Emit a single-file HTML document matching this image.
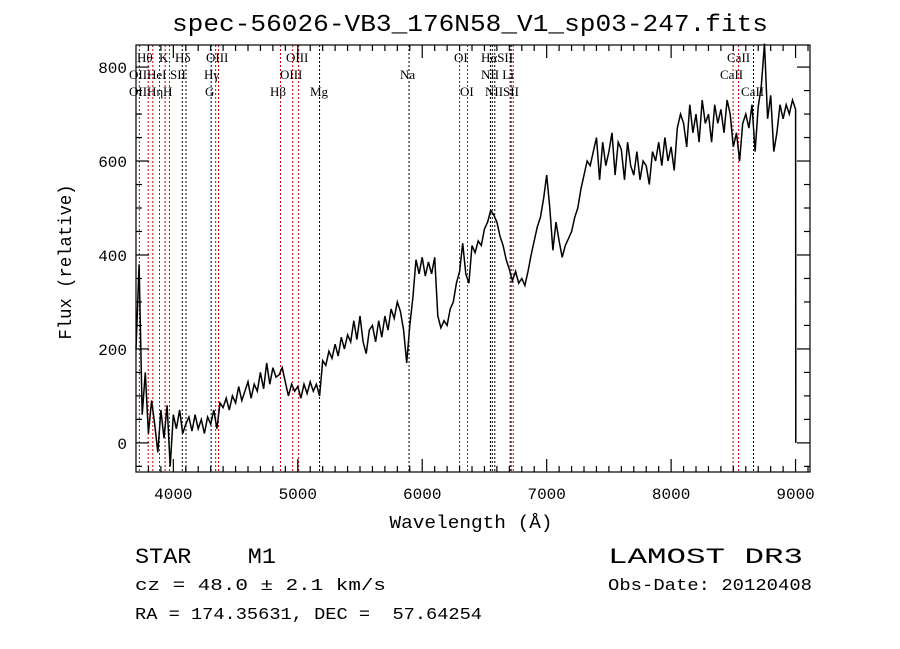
<!DOCTYPE html>
<html><head><meta charset="utf-8"><style>
body{margin:0;background:#fff;}
svg{display:block;font-family:"Liberation Mono",monospace;}
.lab{font-family:"Liberation Serif",serif;font-size:13px;fill:#000;}
</style></head><body>
<svg id="chart" width="900" height="649" viewBox="0 0 900 649" xmlns="http://www.w3.org/2000/svg">
<rect x="0" y="0" width="900" height="649" fill="#fff"/>
<text x="470" y="31" text-anchor="middle" font-size="24" textLength="596" lengthAdjust="spacingAndGlyphs">spec-56026-VB3_176N58_V1_sp03-247.fits</text>
<g id="lines"></g>
<g id="ticks"></g>
<path id="spec" fill="none" stroke="#000" stroke-width="1.5"/>
<rect x="136" y="45" width="674" height="427" fill="none" stroke="#000" stroke-width="1.2"/>
<g class="lab">
<text x="137" y="62">Hθ</text><text x="159" y="62">K</text><text x="175" y="62">Hδ</text><text x="206" y="62">OIII</text><text x="286" y="62">OIII</text><text x="454" y="62">OI</text><text x="481" y="62">HαSII</text><text x="727" y="62">CaII</text>
<text x="129" y="79">OII</text><text x="147" y="79">HeI</text><text x="170" y="79">SII</text><text x="204" y="79">Hγ</text><text x="280" y="79">OIII</text><text x="400" y="79">Na</text><text x="481" y="79">NII Li</text><text x="720" y="79">CaII</text>
<text x="129" y="96">OII</text><text x="147" y="96">Hη</text><text x="163" y="96">H</text><text x="205" y="96">G</text><text x="270" y="96">Hβ</text><text x="310" y="96">Mg</text><text x="460" y="96">OI</text><text x="485" y="96">NIISII</text><text x="741" y="96">CaII</text>
</g>
<text x="471" y="528" text-anchor="middle" font-size="18" textLength="163" lengthAdjust="spacingAndGlyphs">Wavelength (Å)</text>
<text transform="translate(71,262) rotate(-90)" text-anchor="middle" font-size="18" textLength="155" lengthAdjust="spacingAndGlyphs">Flux (relative)</text>
<text x="135" y="563" font-size="22" xml:space="preserve" textLength="141" lengthAdjust="spacingAndGlyphs">STAR    M1</text>
<text x="135" y="590" font-size="17" textLength="251" lengthAdjust="spacingAndGlyphs">cz = 48.0 ± 2.1 km/s</text>
<text x="135" y="619" font-size="17" xml:space="preserve" textLength="347" lengthAdjust="spacingAndGlyphs">RA = 174.35631, DEC =  57.64254</text>
<text x="608" y="563" font-size="22" textLength="195" lengthAdjust="spacingAndGlyphs">LAMOST DR3</text>
<text x="608" y="590" font-size="17" textLength="204" lengthAdjust="spacingAndGlyphs">Obs-Date: 20120408</text>
</svg>
<script>
const xTicks = [4000,5000,6000,7000,8000,9000];
const yTicks = [0,200,400,600,800];
const lineWaves = [3727,3798,3835,3889,3934,3969,4072,4102,4304,4340,4363,4861,4959,5007,5175,5894,6300,6364,6548,6563,6583,6707,6716,6731,8498,8542,8662];
const lineRed = [1,1,1,1,1,1,0,0,0,1,1,1,1,1,0,0,1,1,0,0,0,0,1,1,1,1,0];
const waveStart = 3700;
const waveStep = 25;
const flux = [200,380,60,150,20,90,40,-20,70,10,80,-50,60,30,70,20,40,55,25,60,30,50,20,55,40,70,30,85,75,95,70,100,85,120,90,110,130,95,125,110,150,115,170,125,160,140,145,160,130,100,125,110,120,95,125,105,130,110,125,100,175,165,195,180,210,185,225,200,230,215,260,220,270,215,190,240,250,215,260,225,270,240,285,265,300,280,240,170,250,310,390,360,395,355,385,360,395,270,245,260,250,285,300,340,365,425,360,340,420,405,430,420,455,470,495,485,470,440,420,390,370,345,365,340,350,335,365,400,430,460,480,520,570,500,410,470,430,395,420,435,450,480,500,540,570,600,590,620,650,560,640,590,620,660,570,640,625,560,640,590,570,620,560,600,590,550,620,600,640,590,650,600,630,580,670,700,680,630,720,660,700,640,730,680,700,640,720,680,710,660,730,700,630,660,600,680,700,670,720,620,715,760,850,690,740,620,660,720,690,720,700,730,710];
const NS='http://www.w3.org/2000/svg';
const X0=136,X1=810,Y0=472,Y1=45,WMIN=3700,WMAX=9116,FMIN=-62,FMAX=847;
function xs(w){return X0+(w-WMIN)/(WMAX-WMIN)*(X1-X0);}
function ys(f){return Y0-(f-FMIN)/(FMAX-FMIN)*(Y0-Y1);}
function mk(tag,parent){const e=document.createElementNS(NS,tag);parent.appendChild(e);return e;}
const lg=document.getElementById('lines');
lineWaves.forEach((w,i)=>{
 const l=mk('line',lg);
 
 
 const x=xs(w);
 l.setAttribute('x1',x);l.setAttribute('x2',x);l.setAttribute('y1',Y1);l.setAttribute('y2',Y0);
 l.setAttribute('stroke',lineRed[i]?'#c00':'#000');l.setAttribute('stroke-width','1');l.setAttribute('stroke-dasharray','2,2');
});
const tg=document.getElementById('ticks');
function tick(x1,y1,x2,y2){const l=mk('line',tg);l.setAttribute('x1',x1);l.setAttribute('y1',y1);l.setAttribute('x2',x2);l.setAttribute('y2',y2);l.setAttribute('stroke','#000');l.setAttribute('stroke-width','1.2');}
for(let w=3800;w<=9100;w+=100){const x=xs(w);const L=(w%1000===0)?13:6;tick(x,Y0,x,Y0-L);tick(x,Y1,x,Y1+L);}
for(let f=-50;f<=800;f+=50){const y=ys(f);const L=(f%200===0)?13:6;tick(X0,y,X0+L,y);tick(X1,y,X1-L,y);}
xTicks.forEach(w=>{const t=mk('text',tg);
 
 
 t.setAttribute('x',xs(w));t.setAttribute('y',Y0+27);t.setAttribute('text-anchor','middle');t.setAttribute('font-size','16');t.textContent=w;});
yTicks.forEach(f=>{const t=mk('text',tg);
 
 
 t.setAttribute('x',X0-9);t.setAttribute('y',ys(f)+6);t.setAttribute('text-anchor','end');t.setAttribute('font-size','16');t.textContent=f;});
let d='';
flux.forEach((f,i)=>{const w=waveStart+i*waveStep;d+=(i?'L':'M')+xs(w).toFixed(1)+','+ys(f).toFixed(1);});
d+='L'+xs(waveStart+(flux.length-1)*waveStep+2).toFixed(1)+','+ys(0).toFixed(1);
document.getElementById('spec').setAttribute('d',d);
</script>
</body></html>
